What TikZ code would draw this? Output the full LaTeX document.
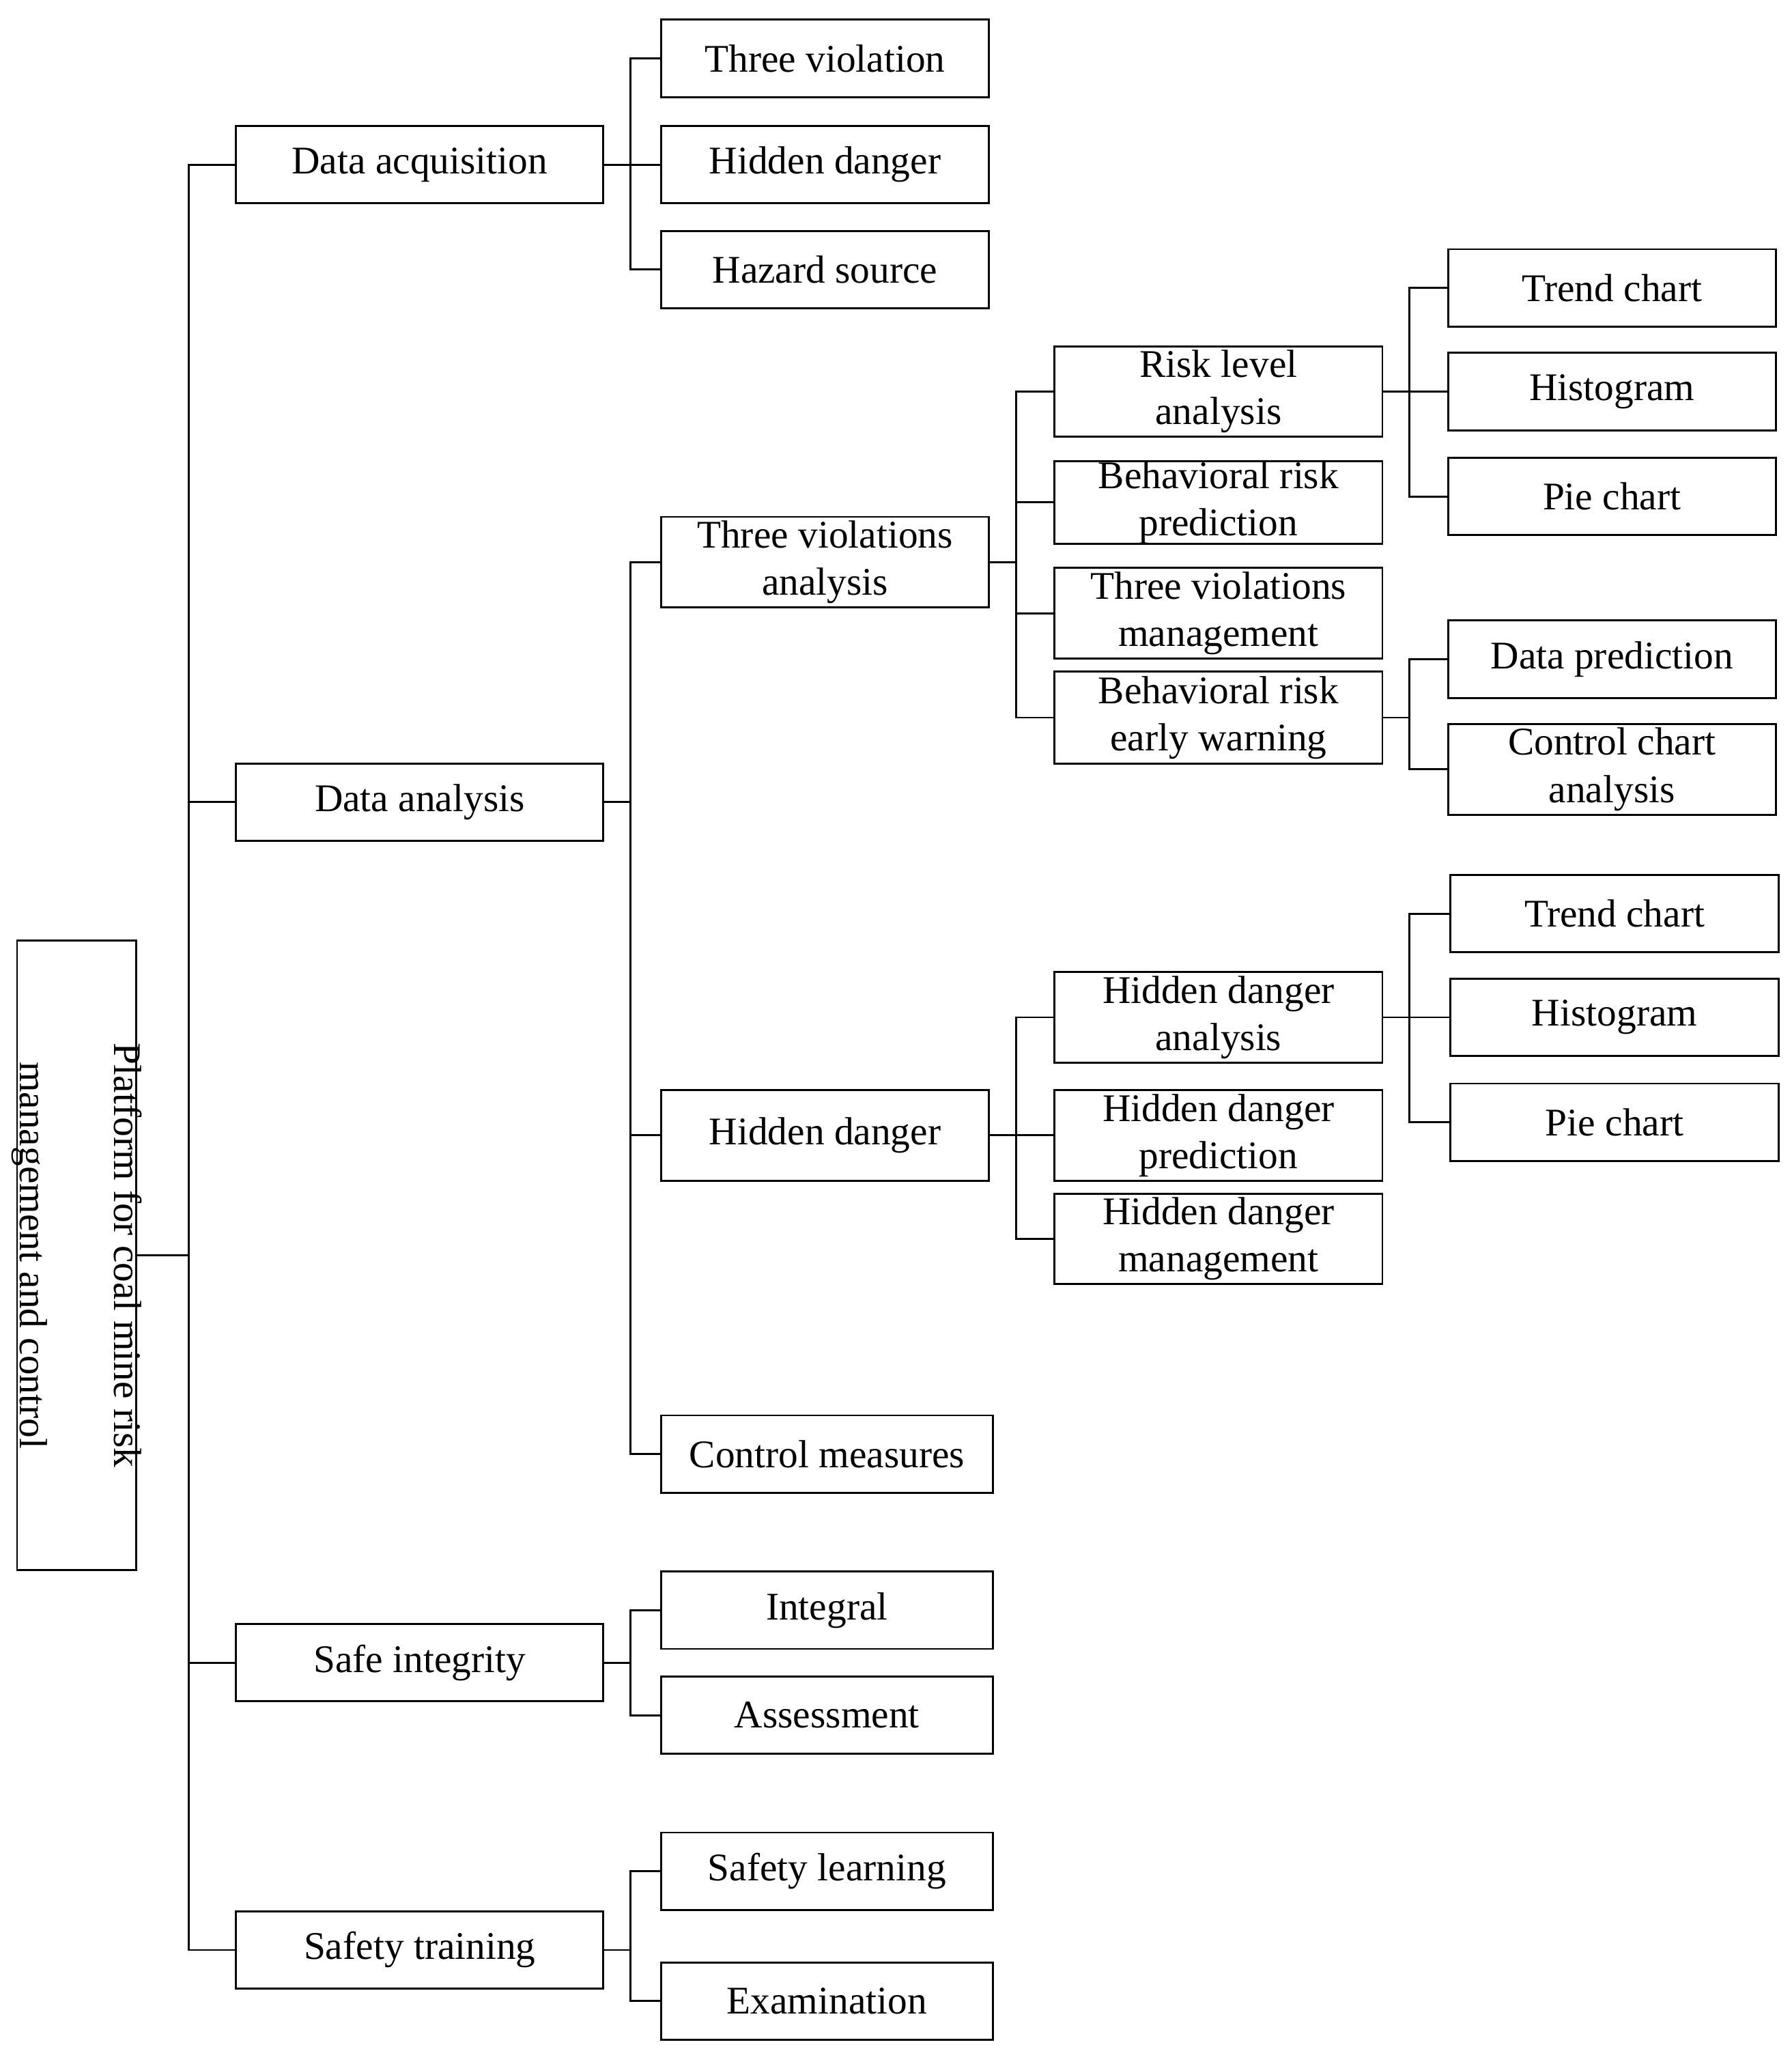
\documentclass[tikz,border=0pt]{standalone}
\usepackage{fontspec}
\setmainfont{Liberation Serif}
\begin{document}
\begin{tikzpicture}[x=0.02cm,y=-0.02cm,line width=0.85pt,
  box/.style={draw,inner sep=0pt,align=center,font=\fontsize{17}{20.5}\selectfont}]
\useasboundingbox (0,0) rectangle (1366,1562);
\newcommand\bx[6]{\node[box,minimum width={(#4-#2)*0.02cm},minimum height={(#5-#3)*0.02cm}] (#1) at ({(#2+#4)/2},{(#3+#5)/2}) {#6};}
\newcommand\cn[2]{\draw (#1.east) -- ++(20,0) |- (#2.west);}
\bx{root}{13}{717}{104}{1197}{}
\node[rotate=-90,align=center,font=\fontsize{17}{41}\selectfont] (rt) at (root.center) {Platform for coal mine risk\\management and control};
\bx{da}{180}{96}{460}{155}{Data acquisition}
\bx{dn}{180}{582}{460}{641}{Data analysis}
\bx{si}{180}{1238}{460}{1297}{Safe integrity}
\bx{st}{180}{1457}{460}{1516}{Safety training}
\foreach \c in {da,dn,si,st}{\draw (root.east) -- ++(39,0) |- (\c.west);}
\bx{tv}{504}{15}{754}{74}{Three violation}
\bx{hd}{504}{96}{754}{155}{Hidden danger}
\bx{hs}{504}{176}{754}{235}{Hazard source}
\cn{da}{tv}\cn{da}{hd}\cn{da}{hs}
\bx{tva}{504}{394}{754}{463}{Three violations\\analysis}
\bx{hdd}{504}{831}{754}{900}{Hidden danger}
\bx{cm}{504}{1079}{757}{1138}{Control measures}
\cn{dn}{tva}\cn{dn}{hdd}\cn{dn}{cm}
\bx{ig}{504}{1198}{757}{1257}{Integral}
\bx{as}{504}{1278}{757}{1337}{Assessment}
\cn{si}{ig}\cn{si}{as}
\bx{sl}{504}{1397}{757}{1456}{Safety learning}
\bx{ex}{504}{1496}{757}{1555}{Examination}
\cn{st}{sl}\cn{st}{ex}
\bx{rla}{804}{264}{1054}{333}{Risk level\\analysis}
\bx{brp}{804}{353}{1054}{413}{Behavioral risk\\prediction}
\bx{tvm}{804}{433}{1054}{502}{Three violations\\management}
\bx{brw}{804}{512}{1054}{582}{Behavioral risk\\early warning}
\cn{tva}{rla}\cn{tva}{brp}\cn{tva}{tvm}\cn{tva}{brw}
\bx{hda}{804}{741}{1054}{810}{Hidden danger\\analysis}
\bx{hdp}{804}{831}{1054}{900}{Hidden danger\\prediction}
\bx{hdm}{804}{910}{1054}{979}{Hidden danger\\management}
\cn{hdd}{hda}\cn{hdd}{hdp}\cn{hdd}{hdm}
\bx{tc1}{1104}{190}{1354}{249}{Trend chart}
\bx{hi1}{1104}{269}{1354}{328}{Histogram}
\bx{pc1}{1104}{349}{1354}{408}{Pie chart}
\cn{rla}{tc1}\cn{rla}{hi1}\cn{rla}{pc1}
\bx{dp}{1104}{473}{1354}{532}{Data prediction}
\bx{cca}{1104}{552}{1354}{621}{Control chart\\analysis}
\cn{brw}{dp}\cn{brw}{cca}
\bx{tc2}{1106}{667}{1356}{726}{Trend chart}
\bx{hi2}{1106}{746}{1356}{805}{Histogram}
\bx{pc2}{1106}{826}{1356}{885}{Pie chart}
\cn{hda}{tc2}\cn{hda}{hi2}\cn{hda}{pc2}
\end{tikzpicture}
\end{document}
